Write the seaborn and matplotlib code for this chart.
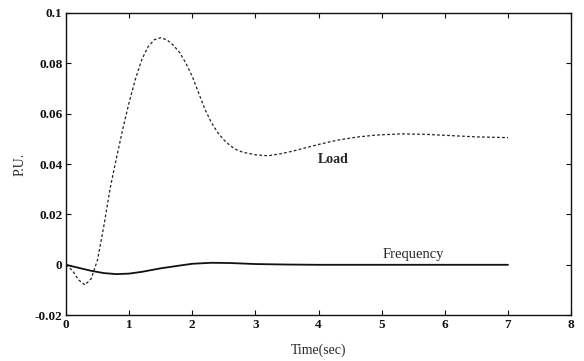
import matplotlib
matplotlib.use("Agg")
import matplotlib.pyplot as plt
import seaborn as sns
import pandas as pd

load_t = [0.0, 0.1, 0.2, 0.3, 0.4, 0.5, 0.6, 0.7, 0.8, 0.9, 1.0, 1.1, 1.2, 1.3, 1.4,
          1.5, 1.6, 1.7, 1.8, 1.9, 2.0, 2.1, 2.2, 2.3, 2.4, 2.5, 2.6, 2.7, 2.8, 3.0,
          3.2, 3.4, 3.6, 3.8, 4.0, 4.3, 4.6, 4.9, 5.3, 5.7, 6.1, 6.5, 7.0]
load_v = [0.0, -0.0022, -0.006, -0.008, -0.0055, 0.002, 0.0155, 0.0305, 0.0425,
          0.054, 0.0645, 0.0738, 0.0815, 0.0866, 0.0894, 0.0902, 0.0893, 0.0872,
          0.0843, 0.0800, 0.0748, 0.0683, 0.0618, 0.0566, 0.0526, 0.0496, 0.0473,
          0.0457, 0.0447, 0.0437, 0.0433, 0.0441, 0.0452, 0.0465, 0.0478, 0.0495,
          0.0507, 0.0515, 0.052, 0.0518, 0.0513, 0.0508, 0.0505]

freq_t = [0.0, 0.2, 0.4, 0.6, 0.8, 1.0, 1.2, 1.5, 1.8, 2.0, 2.3, 2.6, 3.0, 3.5, 4.0,
          5.0, 6.0, 7.0]
freq_v = [0.0, -0.0012, -0.0024, -0.0033, -0.0037, -0.0035, -0.0028, -0.0014,
          -0.0003, 0.0004, 0.0008, 0.0007, 0.0003, 0.0001, 0.0, 0.0, 0.0, 0.0]

x_ticks = [0, 1, 2, 3, 4, 5, 6, 7, 8]
y_ticks = [-0.02, 0, 0.02, 0.04, 0.06, 0.08, 0.1]
y_tick_labels = ["-0.02", "0", "0.02", "0.04", "0.06", "0.08", "0.1"]

sns.set_style("ticks")
plt.rcParams["font.family"] = ["Liberation Serif", "DejaVu Serif"]

fig = plt.figure(figsize=(5.84, 3.61), dpi=100)
ax = fig.add_axes([0.113, 0.127, 0.865, 0.837])

df_load = pd.DataFrame({"t": load_t, "v": load_v})
df_freq = pd.DataFrame({"t": freq_t, "v": freq_v})

sns.lineplot(data=df_load, x="t", y="v", ax=ax, color="#222222", linewidth=0.9,
             linestyle=(0, (2.2, 1.8)))
sns.lineplot(data=df_freq, x="t", y="v", ax=ax, color="#111111", linewidth=1.3)

ax.set_xlim(0, 8)
ax.set_ylim(-0.02, 0.1)
ax.set_xticks(x_ticks)
ax.set_xticklabels([str(v) for v in x_ticks])
ax.set_yticks(y_ticks)
ax.set_yticklabels(y_tick_labels)
for lab in ax.get_xticklabels() + ax.get_yticklabels():
    lab.set_fontweight("bold")
    lab.set_fontsize(9.5)

ax.tick_params(direction="in", length=3.5, width=0.8, top=True, right=True,
               colors="#111111", pad=2.5)
for s in ax.spines.values():
    s.set_visible(True)
    s.set_linewidth(1.0)
    s.set_color("#111111")

ax.set_xlabel("Time(sec)", fontsize=10, labelpad=9)
ax.set_ylabel("P.U.", fontsize=10, labelpad=6)

ax.text(4.23, 0.042, "Load", fontsize=10, fontweight="bold", ha="center", va="center")
ax.text(5.5, 0.0041, "Frequency", fontsize=10.5, ha="center", va="center")

fig.savefig("out.png", dpi=100)
